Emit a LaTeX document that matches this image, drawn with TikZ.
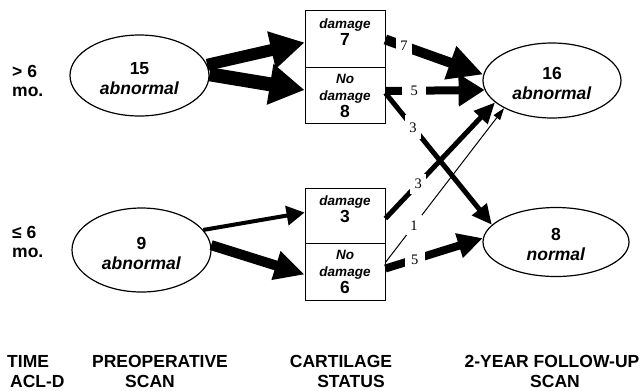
\documentclass[tikz,border=0pt]{standalone}
\usepackage{fontspec}
\setmainfont{Liberation Sans}
\newfontfamily\serifnum{Liberation Serif}
\usetikzlibrary{shapes.geometric,arrows.meta,calc}
\begin{document}
\begin{tikzpicture}[x=1bp,y=-1bp,
  oval/.style={draw, ellipse, line width=1.2bp, inner sep=0, align=center,
    font=\fontsize{17.5bp}{20bp}\selectfont\bfseries},
  cbox/.style={draw, rectangle, line width=0.8bp, minimum width=80bp, inner sep=0},
  btxt/.style={align=center, inner sep=0, font=\fontsize{13.5bp}{17bp}\selectfont\bfseries},
  side/.style={align=left, anchor=west, inner sep=0, font=\fontsize{17.5bp}{19bp}\selectfont\bfseries},
  foot/.style={anchor=base, inner sep=0, font=\fontsize{17.5bp}{20bp}\selectfont\bfseries},
  flab/.style={fill=white, inner sep=0, minimum width=16bp, minimum height=20bp,
    font=\serifnum\fontsize{14.5bp}{14.5bp}\selectfont},
  flow/.style n args={3}{line width=#1, -{Triangle[length=#2, width=#3]}}
]
\useasboundingbox (0,0) rectangle (644,390);

% ellipses
\node[oval, minimum width=139bp, minimum height=81bp] (e15) at (139.5,75.5) {\rule{0pt}{19bp}15\\\textit{abnormal}};
\node[oval, minimum width=139bp, minimum height=84bp] (e9) at (141.5,250) {\rule{0pt}{19bp}9\\\textit{abnormal}};
\node[oval, minimum width=138bp, minimum height=75bp] (e16) at (552,80.5) {\rule{0pt}{18bp}16\\\textit{abnormal}};
\node[oval, minimum width=146bp, minimum height=69bp] (e8) at (556,242) {\rule{0pt}{18bp}8\\\textit{normal}};

% cartilage boxes
\node[cbox, minimum height=57bp] (d7) at (345,38.5) {};
\node[cbox, minimum height=56bp] (n8) at (345,95) {};
\node[cbox, minimum height=55bp] (d3) at (345,215.5) {};
\node[cbox, minimum height=57bp] (n6) at (345,271.5) {};

\node[btxt] (t7) at (345,32) {\textit{damage}\\{\fontsize{17.5bp}{19bp}\selectfont 7}};
\node[btxt] (t8) at (345,96) {\textit{No}\\\textit{damage}\\{\fontsize{17.5bp}{17bp}\selectfont 8}};
\node[btxt] (t3) at (345,209) {\textit{damage}\\{\fontsize{17.5bp}{19bp}\selectfont 3}};
\node[btxt] (t6) at (345,272) {\textit{No}\\\textit{damage}\\{\fontsize{17.5bp}{17bp}\selectfont 6}};

% flows from preoperative scan
\draw[flow={12bp}{34bp}{36bp}] (e15.9) -- ($(d7.west)+(0,4)$);
\draw[flow={14bp}{35bp}{39bp}] (e15.1) -- ($(n8.west)+(0,-5)$);
\draw[flow={4bp}{18bp}{19bp}] (e9.18) -- ($(d3.west)+(0,-3)$);
\draw[flow={10bp}{30bp}{28bp}] (e9.4) -- ($(n6.west)+(0,3)$);

% flows to follow-up scan
\draw[flow={10bp}{35bp}{33bp}] ($(d7.east)+(0,1)$) -- node[flab, pos=0.19] (l7) {7} (e16.175);
\draw[flow={8bp}{26bp}{31bp}] ($(n8.east)+(0,-4)$) -- node[flab, pos=0.29, minimum width=24bp] (l5a) {5} (e16.188);
\draw[flow={5bp}{20bp}{18bp}] ($(n8.east)+(0,-2)$) -- node[flab, pos=0.26, minimum height=24bp] (l3a) {3} (e8.165);
\draw[flow={5bp}{21bp}{18bp}] ($(d3.east)+(0,3)$) -- node[flab, pos=0.30] (l3b) {3} (e16.201);
\draw[flow={1bp}{12bp}{8bp}] ($(n6.east)+(0,-9)$) -- node[flab, pos=0.24] (l1) {1} (e16.210);
\draw[flow={8bp}{25bp}{24bp}] ($(n6.east)+(0,-3)$) -- node[flab, pos=0.30, minimum width=20bp] (l5b) {5} (e8.177);

% side labels
\node[side] (s1) at (12,81) {> 6\\mo.};
\node[side] (s2) at (12,242) {≤ 6\\mo.};

% footer
\node[foot, anchor=base west] (f1) at (7,367) {TIME};
\node[foot, anchor=base west] (f2) at (10,387) {ACL-D};
\node[foot] (f3) at (160,367) {PREOPERATIVE};
\node[foot] (f4) at (150,387) {SCAN};
\node[foot] (f5) at (341,367) {CARTILAGE};
\node[foot] (f6) at (351,387) {STATUS};
\node[foot] (f7) at (552,367) {2-YEAR FOLLOW-UP};
\node[foot] (f8) at (555,387) {SCAN};
\end{tikzpicture}
\end{document}
